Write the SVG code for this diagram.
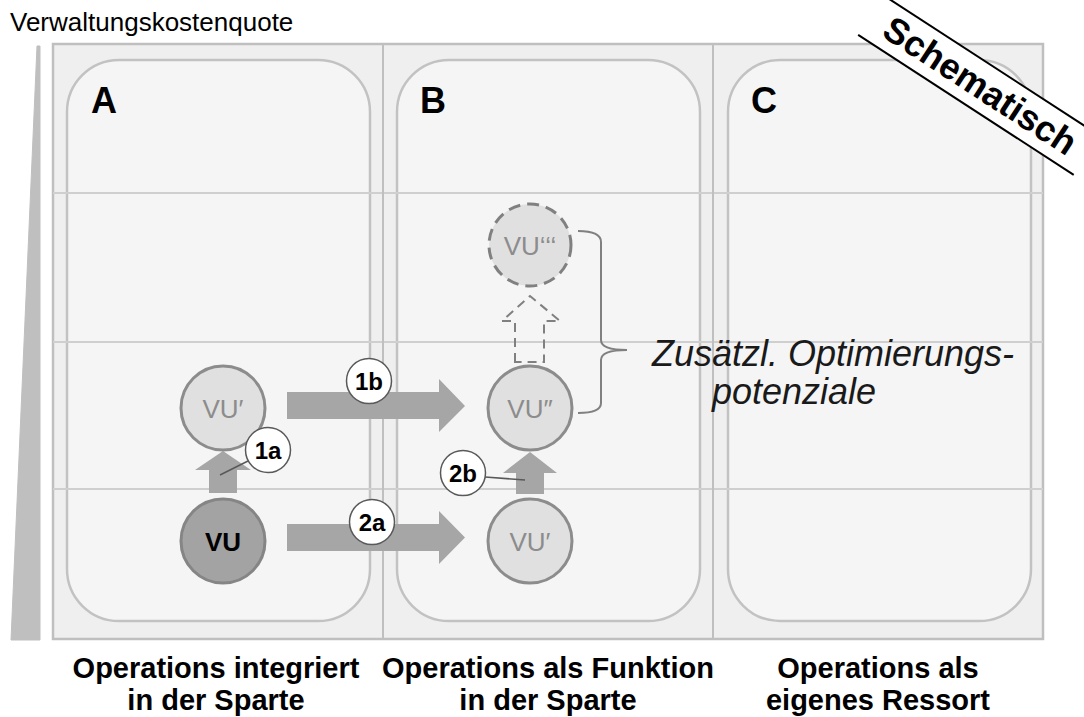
<svg xmlns="http://www.w3.org/2000/svg" width="1084" height="717" viewBox="0 0 1084 717">
<style>
.t{font-family:"Liberation Sans",Arial,sans-serif}
.b{font-weight:bold}
.panel{fill:#f5f5f5;stroke:#c2c2c2;stroke-width:2.5}
.grid{stroke:#cfcfcf;stroke-width:2}
.div{stroke:#bfbfbf;stroke-width:2}
.arr{fill:#a6a6a6}
.lbl{fill:#ffffff;stroke:#595959;stroke-width:1.5}
.lead{stroke:#595959;stroke-width:1.5;fill:none}
.vu{fill:#e0e0e0;stroke:#8c8c8c;stroke-width:3}
.gt{fill:#8c8c8c;font-size:26px;text-anchor:middle}
.lt{font-size:24px;font-weight:bold;text-anchor:middle;fill:#000}
.cap{font-size:29px;font-weight:bold;text-anchor:middle;fill:#000}
</style>
<rect width="1084" height="717" fill="#ffffff"/>
<text class="t" x="10" y="31" font-size="26" fill="#000">Verwaltungskostenquote</text>
<polygon id="axis" points="37,46 40,46 40,640 11,640" fill="#bfbfbf" stroke="#bfbfbf" stroke-width="1" stroke-linejoin="round"/>
<g id="frame">
<rect x="53" y="44" width="990" height="595" fill="#efefef" stroke="#bfbfbf" stroke-width="2.5"/>
<rect class="panel" x="67" y="60" width="303" height="561" rx="52"/>
<rect class="panel" x="397" y="60" width="303" height="561" rx="52"/>
<rect class="panel" x="728" y="60" width="303" height="561" rx="52"/>
<line class="grid" x1="53" y1="193" x2="1043" y2="193"/>
<line class="grid" x1="53" y1="342" x2="1043" y2="342"/>
<line class="grid" x1="53" y1="489" x2="1043" y2="489"/>
<line class="div" x1="383" y1="44" x2="383" y2="639"/>
<line class="div" x1="713" y1="44" x2="713" y2="639"/>
<text class="t b" x="91" y="113" font-size="36">A</text>
<text class="t b" x="420" y="113" font-size="36">B</text>
<text class="t b" x="751" y="113" font-size="36">C</text>
</g>
<g id="connectors">
<polygon class="arr" points="209,493 209,470 195,470 223,451 251,470 237,470 237,493"/>
<polygon class="arr" points="287,392 439,392 439,379 465,406 439,432 439,419 287,419"/>
<polygon class="arr" points="287,524 439,524 439,511 465,537.5 439,564 439,551 287,551"/>
<polygon class="arr" points="516,494 516,473 503,473 530,452 557,473 544,473 544,494"/>
<polygon points="515,362 515,321 502,321 530,296 560,321 544,321 544,362" fill="none" stroke="#808080" stroke-width="2" stroke-dasharray="9,6"/>
<path d="M578,231 Q601,231 601,242 L601,340 Q601,350 627,350 Q601,350 601,360 L601,403 Q601,413 578,413" fill="none" stroke="#808080" stroke-width="2"/>
<line class="lead" x1="220" y1="475" x2="248" y2="461"/>
<line class="lead" x1="485" y1="477" x2="525" y2="480"/>
</g>
<g id="node-vu-a">
<circle cx="223" cy="541" r="42" fill="#a3a3a3" stroke="#858585" stroke-width="3"/>
<text class="t b" x="223" y="551" font-size="26" text-anchor="middle" fill="#000">VU</text>
</g>
<g id="node-vu1-a">
<circle class="vu" cx="223" cy="408" r="42"/>
<text class="t gt" x="223" y="418">VU′</text>
</g>
<g id="node-vu2-b">
<circle class="vu" cx="530" cy="408" r="42"/>
<text class="t gt" x="530" y="418">VU″</text>
</g>
<g id="node-vu1-b">
<circle class="vu" cx="530" cy="541" r="42"/>
<text class="t gt" x="530" y="551">VU′</text>
</g>
<g id="node-vu3-b">
<circle cx="530" cy="245" r="41" fill="#e0e0e0" stroke="#808080" stroke-width="3" stroke-dasharray="12,7"/>
<text class="t gt" x="530" y="255">VU‘‘‘</text>
</g>
<g id="label-1a"><circle class="lbl" cx="268" cy="450" r="22.5"/><text class="t lt" x="268" y="458.5">1a</text></g>
<g id="label-1b"><circle class="lbl" cx="369" cy="381" r="22.5"/><text class="t lt" x="369" y="389.5">1b</text></g>
<g id="label-2a"><circle class="lbl" cx="372" cy="522" r="22.5"/><text class="t lt" x="372" y="530.5">2a</text></g>
<g id="label-2b"><circle class="lbl" cx="463" cy="473" r="22.5"/><text class="t lt" x="463" y="481.5">2b</text></g>
<g id="note">
<text class="t" font-style="italic" font-size="36" fill="#1a1a1a"><tspan x="652" y="366">Zusätzl. Optimierungs-</tspan><tspan x="712" y="404">potenziale</tspan></text>
</g>
<g id="captions">
<text class="t cap"><tspan x="216" y="678">Operations integriert</tspan><tspan x="216" y="710">in der Sparte</tspan></text>
<text class="t cap"><tspan x="548" y="678">Operations als Funktion</tspan><tspan x="548" y="710">in der Sparte</tspan></text>
<text class="t cap"><tspan x="878" y="678">Operations als</tspan><tspan x="878" y="710">eigenes Ressort</tspan></text>
</g>
<g id="stamp" transform="translate(980,86) rotate(33)">
<rect x="-130" y="-23.5" width="260" height="47" fill="#ffffff"/>
<line x1="-130" y1="-23.5" x2="130" y2="-23.5" stroke="#000" stroke-width="2"/>
<line x1="-130" y1="23.5" x2="127" y2="23.5" stroke="#000" stroke-width="2"/>
<text class="t b" x="0" y="12" font-size="36" text-anchor="middle" fill="#000">Schematisch</text>
</g>
</svg>
